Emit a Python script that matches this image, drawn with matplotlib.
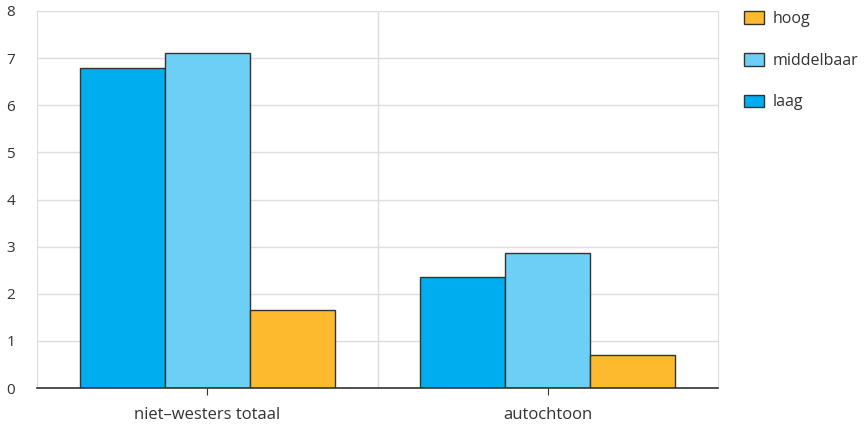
import matplotlib
matplotlib.use("Agg")
import matplotlib.pyplot as plt
from matplotlib.patches import Patch
import numpy as np

categories = ["niet\u2013westers totaal", "autochtoon"]
series_names = ["laag", "middelbaar", "hoog"]
laag = [6.8, 2.36]
middelbaar = [7.1, 2.86]
hoog = [1.65, 0.71]
yticks = [0, 1, 2, 3, 4, 5, 6, 7, 8]

colors = {"laag": "#00AEEF", "middelbaar": "#6DCFF6", "hoog": "#FDBA2F"}

plt.rcParams['font.family'] = ['Open Sans', 'DejaVu Sans']
fig = plt.figure(figsize=(8.64, 4.26), dpi=100)
ax = fig.add_axes([37/864, 1 - 388/426, (718-37)/864, (388-11)/426])

x = np.arange(len(categories))
w = 0.25
for i, (name, vals) in enumerate(zip(series_names, [laag, middelbaar, hoog])):
    ax.bar(x + (i - 1) * w, vals, width=w, color=colors[name],
           edgecolor="#333333", linewidth=1.0, zorder=3)

ax.set_xlim(-0.5, 1.5)
ax.set_ylim(0, 8)
ax.set_yticks(yticks)
ax.set_xticks(x)
ax.set_xticklabels(categories)
ax.set_xticks([0.5], minor=True)
ax.grid(axis='y', color="#dddddd", linewidth=1.0, zorder=0)
ax.grid(axis='x', which='minor', color="#dddddd", linewidth=1.0, zorder=0)
for s in ["left", "right", "top"]:
    ax.spines[s].set_color("#dddddd")
ax.spines["top"].set_visible(False)
ax.spines["bottom"].set_color("#333333")
ax.spines["bottom"].set_linewidth(1.2)
ax.spines["bottom"].set_zorder(4)
ax.tick_params(axis='y', length=0, pad=22, labelsize=11, labelcolor="#333333")
ax.tick_params(axis='x', which='major', length=5, color="#333333", pad=9,
               labelsize=12, labelcolor="#333333")
ax.tick_params(axis='x', which='minor', length=0)
for lbl in ax.get_yticklabels():
    lbl.set_horizontalalignment('left')

handles = [Patch(facecolor=colors[n], edgecolor="#333333", linewidth=1.0, label=n)
           for n in ["hoog", "middelbaar", "laag"]]
leg = fig.legend(handles=handles, loc='upper left', bbox_to_anchor=(730/864, 1 + 3/426),
                 frameon=False, fontsize=11.5, labelspacing=1.6, handlelength=1.2,
                 handleheight=0.85, handletextpad=0.6, labelcolor="#333333")

fig.savefig("out.png", dpi=100)
